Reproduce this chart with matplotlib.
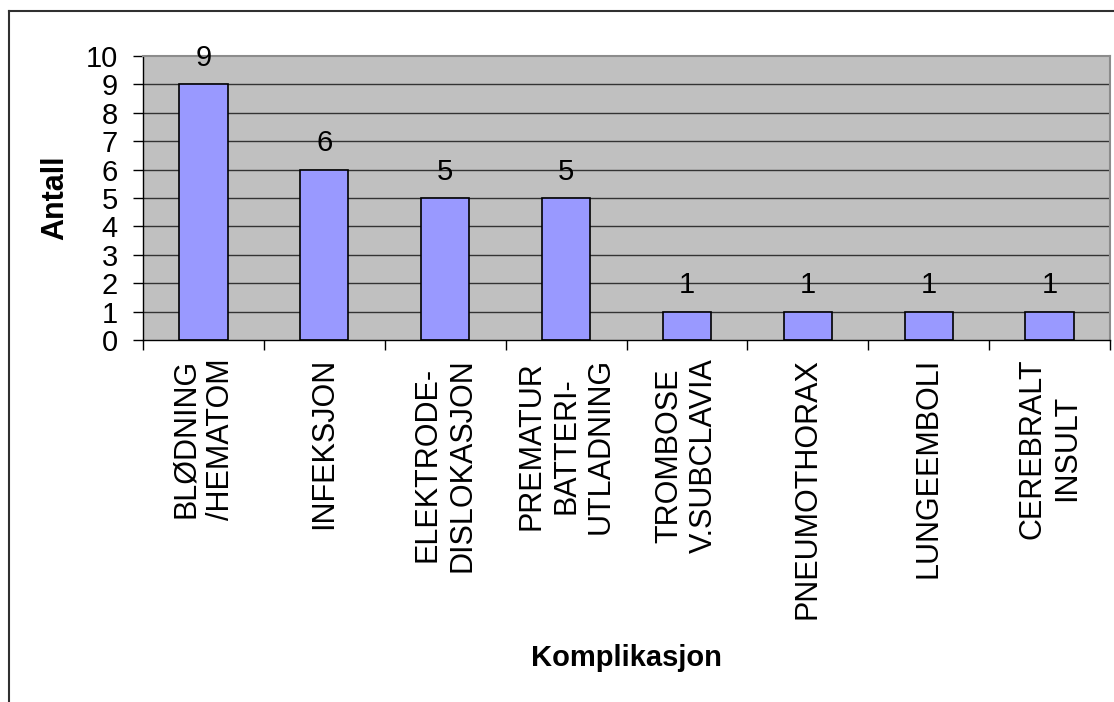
import matplotlib
matplotlib.use("Agg")
import matplotlib.pyplot as plt
from matplotlib.lines import Line2D
import numpy as np

plt.rcParams['font.family'] = ['Liberation Sans', 'DejaVu Sans']

# complication types and counts
categories = ['BLØDNING\n/HEMATOM', 'INFEKSJON', 'ELEKTRODE-\nDISLOKASJON',
              'PREMATUR\nBATTERI-\nUTLADNING', 'TROMBOSE\nV.SUBCLAVIA',
              'PNEUMOTHORAX', 'LUNGEEMBOLI', 'CEREBRALT\nINSULT']
counts = [9, 6, 5, 5, 1, 1, 1, 1]
yticks = list(range(0, 11))

fig = plt.figure(figsize=(11.14, 7.02), dpi=100)
ax = fig.add_axes([143 / 1114, 1 - 340 / 702, (1110 - 143) / 1114, (340 - 56) / 702])
ax.set_facecolor('#C0C0C0')

x = np.arange(len(categories))
for y in yticks[1:-1]:
    ax.axhline(y, color='#333333', lw=1.0, zorder=1)
bars = ax.bar(x, counts, width=0.4, color='#9999FF', edgecolor='black',
              linewidth=1.2, zorder=2)

for xi, c in zip(x, counts):
    ax.annotate(str(c), (xi, c), xytext=(0, 9), textcoords='offset points',
                ha='center', va='bottom', fontsize=21)

ax.set_xlim(-0.5, len(categories) - 0.5)
ax.set_ylim(0, 10)
ax.set_yticks(yticks)
ax.tick_params(axis='y', direction='out', length=7, width=1, pad=11,
               labelsize=21, color='black')

# boundary ticks between categories, labels sit on minor ticks at centres
ax.set_xticks(np.arange(-0.5, len(categories), 1.0))
ax.set_xticklabels([])
ax.tick_params(axis='x', which='major', direction='out', length=7, width=1)
ax.set_xticks(x, minor=True)
ax.set_xticklabels(categories, minor=True, rotation=90, fontsize=22,
                   ha='center', va='top', multialignment='center')
ax.tick_params(axis='x', which='minor', length=0, pad=13)

for side in ['left', 'bottom']:
    ax.spines[side].set_color('black')
    ax.spines[side].set_linewidth(1.0)
for side in ['top', 'right']:
    ax.spines[side].set_color('#8C8C8C')
    ax.spines[side].set_linewidth(1.5)

ax.set_ylabel('Antall', fontsize=22, fontweight='bold', va='center')
ax.yaxis.set_label_coords((55 - 143) / 967, 0.5)
ax.set_xlabel('Komplikasjon', fontsize=21, fontweight='bold', va='center')
ax.xaxis.set_label_coords(0.5, (340 - 658) / 284)

# outer chart frame, only left and top edges fall inside the canvas
fig.add_artist(Line2D([9 / 1114, 9 / 1114], [0, 1 - 11 / 702],
                      transform=fig.transFigure, color='#303030', lw=1.5))
fig.add_artist(Line2D([9 / 1114, 1], [1 - 11 / 702, 1 - 11 / 702],
                      transform=fig.transFigure, color='#303030', lw=1.5))

fig.savefig('out.png', dpi=100)
